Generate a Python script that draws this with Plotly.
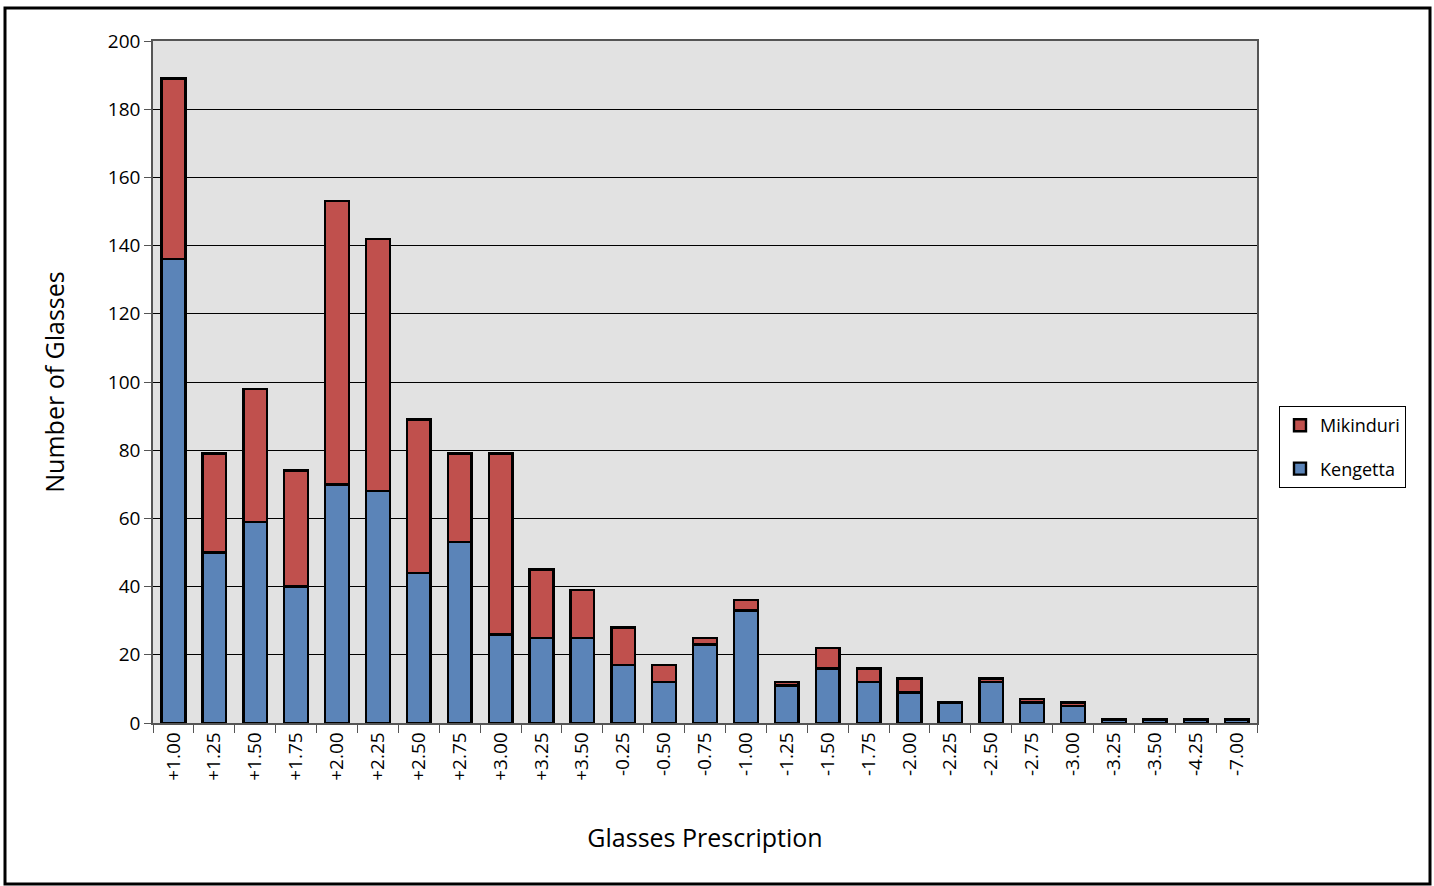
import plotly.graph_objects as go

categories = ["+1.00", "+1.25", "+1.50", "+1.75", "+2.00", "+2.25", "+2.50", "+2.75",
              "+3.00", "+3.25", "+3.50", "-0.25", "-0.50", "-0.75", "-1.00", "-1.25",
              "-1.50", "-1.75", "-2.00", "-2.25", "-2.50", "-2.75", "-3.00", "-3.25",
              "-3.50", "-4.25", "-7.00"]
kengetta = [136, 50, 59, 40, 70, 68, 44, 53, 26, 25, 25, 17, 12, 23, 33, 11,
            16, 12, 9, 6, 12, 6, 5, 1, 1, 1, 1]
mikinduri = [53, 29, 39, 34, 83, 74, 45, 26, 53, 20, 14, 11, 5, 2, 3, 1,
             6, 4, 4, 0, 1, 1, 1, 0, 0, 0, 0]
y_ticks = [0, 20, 40, 60, 80, 100, 120, 140, 160, 180, 200]

FONT = "Open Sans"
fig = go.Figure()
fig.add_trace(go.Bar(x=categories, y=kengetta, name="Kengetta", legendgroup="k",
                     legendrank=2,
                     marker=dict(color="#5b84b8", line=dict(color="black", width=2.4))))
fig.add_trace(go.Bar(x=categories, y=mikinduri, name="Mikinduri", legendgroup="m",
                     legendrank=1,
                     marker=dict(color="#c0504d", line=dict(color="black", width=2.4))))

L, R, T, B = 153, 1257, 41, 723
W, H = 1434, 886
pw, ph = R - L, B - T

fig.update_layout(
    width=W, height=H,
    margin=dict(l=L, r=W - R, t=T, b=H - B, autoexpand=False),
    barmode="stack", bargap=0.42,
    paper_bgcolor="white", plot_bgcolor="#e2e2e2",
    font=dict(family=FONT, color="black", size=18),
    showlegend=True,
    legend=dict(traceorder="grouped", x=(1279 - L) / pw, xanchor="left",
                y=(B - 447) / ph, yanchor="middle",
                bordercolor="black", borderwidth=1, bgcolor="white",
                font=dict(size=18, family=FONT), tracegroupgap=17,
                itemwidth=30),
    xaxis=dict(type="category", tickson="boundaries", ticks="outside", ticklen=8,
               tickcolor="#555", tickangle=-90, tickfont=dict(size=19),
               showline=True, linecolor="#555", linewidth=1.5, mirror=True,
               title=dict(text="Glasses Prescription", font=dict(size=25), standoff=50)),
    yaxis=dict(range=[0, 200], tickvals=y_ticks, ticks="outside", ticklen=7,
               tickcolor="#555", tickfont=dict(size=19),
               showgrid=True, gridcolor="black", gridwidth=1.3,
               showline=True, linecolor="#555", linewidth=1.5, mirror=True,
               zeroline=False,
               title=dict(text="Number of Glasses", font=dict(size=25), standoff=36)),
    shapes=[dict(type="rect", xref="paper", yref="paper",
                 x0=(5 - L) / pw, x1=(1430 - L) / pw,
                 y0=(B - 884) / ph, y1=(B - 8) / ph,
                 line=dict(color="black", width=3), fillcolor="rgba(0,0,0,0)",
                 layer="below")],
)

fig.write_html("out.html", config={"displayModeBar": False},
               post_script="document.body.style.margin='0';")
